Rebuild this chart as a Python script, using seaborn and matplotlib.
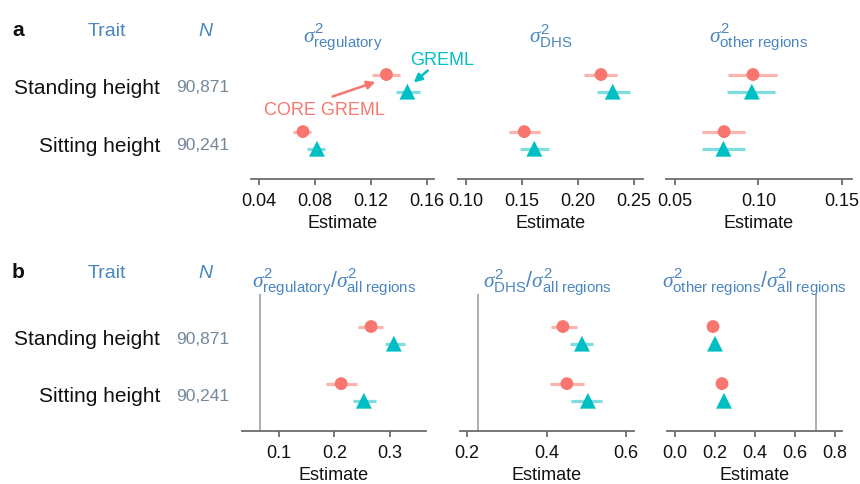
import matplotlib
matplotlib.use("Agg")
import matplotlib.pyplot as plt
import numpy as np
import pandas as pd
import seaborn as sns

traits = ["Standing height", "Sitting height"]
sample_n = ["90,871", "90,241"]
methods = ["CORE GREML", "GREML"]

# panel a: variance components (estimate, lower, upper) per trait
reg_core = [0.131, 0.0714]
reg_core_lo = [0.121, 0.064]
reg_core_hi = [0.141, 0.077]
reg_greml = [0.146, 0.0814]
reg_greml_lo = [0.138, 0.074]
reg_greml_hi = [0.155, 0.087]

dhs_core = [0.2205, 0.152]
dhs_core_lo = [0.205, 0.138]
dhs_core_hi = [0.235, 0.166]
dhs_greml = [0.231, 0.161]
dhs_greml_lo = [0.217, 0.148]
dhs_greml_hi = [0.246, 0.174]

oth_core = [0.0967, 0.0794]
oth_core_lo = [0.082, 0.066]
oth_core_hi = [0.111, 0.092]
oth_greml = [0.096, 0.079]
oth_greml_lo = [0.081, 0.066]
oth_greml_hi = [0.110, 0.092]

# panel b: fractions of total
freg_core = [0.266, 0.212]
freg_core_lo = [0.242, 0.185]
freg_core_hi = [0.287, 0.240]
freg_greml = [0.307, 0.253]
freg_greml_lo = [0.291, 0.233]
freg_greml_hi = [0.327, 0.275]

fdhs_core = [0.441, 0.451]
fdhs_core_lo = [0.411, 0.409]
fdhs_core_hi = [0.477, 0.494]
fdhs_greml = [0.489, 0.504]
fdhs_greml_lo = [0.459, 0.462]
fdhs_greml_hi = [0.517, 0.540]

foth_core = [0.190, 0.235]
foth_core_lo = [0.180, 0.225]
foth_core_hi = [0.200, 0.245]
foth_greml = [0.200, 0.245]
foth_greml_lo = [0.190, 0.228]
foth_greml_hi = [0.210, 0.260]

# expected fractions (vertical reference lines)
ref_reg = 0.066
ref_dhs = 0.228
ref_oth = 0.705

titles_a = [r"$\sigma^2_{\mathrm{regulatory}}$", r"$\sigma^2_{\mathrm{DHS}}$",
            r"$\sigma^2_{\mathrm{other\ regions}}$"]
titles_b = [r"$\sigma^2_{\mathrm{regulatory}}/\sigma^2_{\mathrm{all\ regions}}$",
            r"$\sigma^2_{\mathrm{DHS}}/\sigma^2_{\mathrm{all\ regions}}$",
            r"$\sigma^2_{\mathrm{other\ regions}}/\sigma^2_{\mathrm{all\ regions}}$"]

ticks_a = [[0.04, 0.08, 0.12, 0.16], [0.10, 0.15, 0.20, 0.25], [0.05, 0.10, 0.15]]
ticklabels_a = [["0.04", "0.08", "0.12", "0.16"], ["0.10", "0.15", "0.20", "0.25"],
                ["0.05", "0.10", "0.15"]]
ticks_b = [[0.1, 0.2, 0.3], [0.2, 0.4, 0.6], [0.0, 0.2, 0.4, 0.6, 0.8]]
ticklabels_b = [["0.1", "0.2", "0.3"], ["0.2", "0.4", "0.6"], ["0.0", "0.2", "0.4", "0.6", "0.8"]]

COLORS = {"CORE GREML": "#F8766D", "GREML": "#00BFC4"}
LIGHT = {"CORE GREML": "#FBB3AD", "GREML": "#7FDDE0"}
BLUE = "#4A86C0"
GREYBLUE = "#74889A"
INK = "#111111"
OFFSET = {"CORE GREML": -0.15, "GREML": 0.15}

W, H = 860, 485


def make_frame(core, core_lo, core_hi, greml, greml_lo, greml_hi):
    rows = []
    for i, trait in enumerate(traits):
        rows.append((trait, i, "CORE GREML", core[i], core_lo[i], core_hi[i]))
        rows.append((trait, i, "GREML", greml[i], greml_lo[i], greml_hi[i]))
    df = pd.DataFrame(rows, columns=["trait", "idx", "method", "est", "lo", "hi"])
    df["ypos"] = df["idx"] + df["method"].map(OFFSET)
    return df


def px_axes(x0, x1, y0, y1):
    return [x0 / W, 1 - y1 / H, (x1 - x0) / W, (y1 - y0) / H]


sns.set_theme(style="white")
plt.rcParams["font.family"] = ["Liberation Sans", "DejaVu Sans"]
plt.rcParams["mathtext.fontset"] = "custom"
plt.rcParams["mathtext.rm"] = "Liberation Sans"
plt.rcParams["mathtext.it"] = "Liberation Serif:italic"
plt.rcParams["mathtext.bf"] = "Liberation Sans:bold"
plt.rcParams["text.color"] = INK
plt.rcParams["axes.labelcolor"] = INK
plt.rcParams["xtick.color"] = INK

fig = plt.figure(figsize=(8.6, 4.85), dpi=100)


def draw_panel(rect, df, xlim, ticks, ticklabels, title, title_y, ref=None):
    ax = fig.add_axes(px_axes(*rect))
    ax.set_facecolor("none")
    if ref is not None:
        ax.axvline(ref, color="#A8A8A8", lw=1.3, zorder=1)
    for _, r in df.iterrows():
        ax.hlines(r["ypos"], r["lo"], r["hi"], color=LIGHT[r["method"]], lw=2.3, zorder=2)
    sns.scatterplot(data=df, x="est", y="ypos", hue="method", style="method",
                    size="method", sizes={"CORE GREML": 85, "GREML": 130},
                    markers={"CORE GREML": "o", "GREML": "^"}, palette=COLORS,
                    linewidth=0, legend=False, ax=ax, zorder=3)
    ax.set_xlim(*xlim)
    ax.set_ylim(1.68, -0.72)
    ax.set_xticks(ticks)
    ax.set_xticklabels(ticklabels, fontsize=13)
    ax.set_yticks([])
    ax.set_ylabel("")
    ax.set_xlabel("Estimate", fontsize=13, labelpad=4)
    for side in ["left", "top", "right"]:
        ax.spines[side].set_visible(False)
    ax.spines["bottom"].set_color("#666666")
    ax.tick_params(axis="x", bottom=True, length=4, color="#666666", pad=5)
    ax.text(0.5, title_y, title, transform=ax.transAxes, ha="center", va="center",
            color=BLUE, fontsize=15.5)
    return ax


panels_a = [
    make_frame(reg_core, reg_core_lo, reg_core_hi, reg_greml, reg_greml_lo, reg_greml_hi),
    make_frame(dhs_core, dhs_core_lo, dhs_core_hi, dhs_greml, dhs_greml_lo, dhs_greml_hi),
    make_frame(oth_core, oth_core_lo, oth_core_hi, oth_greml, oth_greml_lo, oth_greml_hi),
]
panels_b = [
    make_frame(freg_core, freg_core_lo, freg_core_hi, freg_greml, freg_greml_lo, freg_greml_hi),
    make_frame(fdhs_core, fdhs_core_lo, fdhs_core_hi, fdhs_greml, fdhs_greml_lo, fdhs_greml_hi),
    make_frame(foth_core, foth_core_lo, foth_core_hi, foth_greml, foth_greml_lo, foth_greml_hi),
]

rects_a = [(251, 434, 43, 180), (458, 643, 43, 180), (666, 852, 43, 180)]
rects_b = [(242, 426, 295, 432), (460, 634, 295, 432), (667, 842, 295, 432)]
xlims_a = [(0.0343, 0.165), (0.0929, 0.258), (0.0446, 0.156)]
xlims_b = [(0.0333, 0.365), (0.182, 0.620), (-0.04, 0.835)]
refs_b = [ref_reg, ref_dhs, ref_oth]

axes_a = []
for i in range(3):
    axes_a.append(draw_panel(rects_a[i], panels_a[i], xlims_a[i], ticks_a[i],
                             ticklabels_a[i], titles_a[i], 1.05))
for i in range(3):
    draw_panel(rects_b[i], panels_b[i], xlims_b[i], ticks_b[i], ticklabels_b[i],
               titles_b[i], 1.10, ref=refs_b[i])

# annotations on the first panel
ax0 = axes_a[0]
ax0.text(0.171, -0.42, "GREML", color=COLORS["GREML"], fontsize=13,
         ha="center", va="center", clip_on=False, zorder=10)
ax0.annotate("", xy=(0.149, 0.02), xytext=(0.162, -0.25), annotation_clip=False,
             arrowprops=dict(arrowstyle="-|>", color=COLORS["GREML"], lw=1.8,
                             mutation_scale=12))
ax0.text(0.087, 0.46, "CORE GREML", color=COLORS["CORE GREML"], fontsize=13,
         ha="center", va="center", clip_on=False)
ax0.annotate("", xy=(0.125, -0.035), xytext=(0.0907, 0.25), annotation_clip=False,
             arrowprops=dict(arrowstyle="-|>", color=COLORS["CORE GREML"], lw=1.8,
                             mutation_scale=12))

# left hand table
for label, top, rows_y in [("a", 30, (88, 146)), ("b", 272, (340, 397))]:
    fig.text(12 / W, 1 - top / H, label, fontsize=15, fontweight="bold",
             ha="left", va="center")
    fig.text(107 / W, 1 - (top + 2) / H, "Trait", fontsize=14, color=BLUE,
             ha="center", va="center")
    fig.text(205 / W, 1 - (top + 2) / H, "N", fontsize=14, color=BLUE,
             style="italic", ha="center", va="center")
    for trait, n, y in zip(traits, sample_n, rows_y):
        fig.text(160 / W, 1 - y / H, trait, fontsize=15, ha="right", va="center")
        fig.text(176 / W, 1 - y / H, n, fontsize=12.5, color=GREYBLUE,
                 ha="left", va="center")

fig.savefig("out.png", dpi=100)
